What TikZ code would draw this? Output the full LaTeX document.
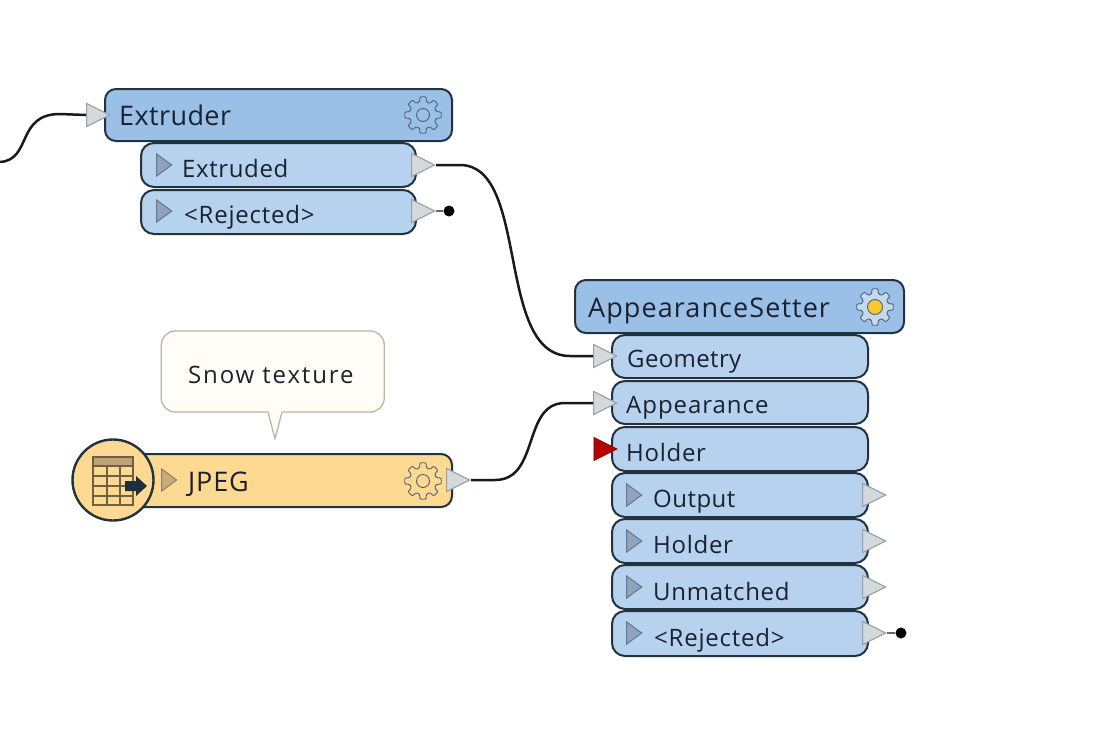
\documentclass[tikz,border=0pt]{standalone}
\usepackage{fontspec}
\setmainfont{Open Sans}
\usetikzlibrary{shapes.geometric,calc}
\definecolor{edgec}{HTML}{22323F}
\definecolor{headc}{HTML}{9BC0E8}
\definecolor{subc}{HTML}{B6D2EF}
\definecolor{gearfill}{HTML}{C4D9EE}
\definecolor{orangec}{HTML}{FED992}
\definecolor{portc}{HTML}{D3DADE}
\definecolor{portedge}{HTML}{9AA0A4}
\definecolor{expc}{HTML}{8FA3BC}
\definecolor{expedge}{HTML}{64788F}
\definecolor{expo}{HTML}{C6AA78}
\definecolor{expoedge}{HTML}{8F7F5F}
\definecolor{notec}{HTML}{FFFDF5}
\definecolor{noteedge}{HTML}{B8B8A8}
\definecolor{gearc}{HTML}{4F6070}
\definecolor{textc}{HTML}{1A2230}
\definecolor{gridc}{HTML}{6F5F45}
\definecolor{gridh}{HTML}{BFA273}
\definecolor{arrowc}{HTML}{1B2F3F}
\definecolor{sunc}{HTML}{F8C830}
\newcommand{\lsp}[1]{\addfontfeature{LetterSpace=#1}}
\tikzset{
  x=1pt,y=-1pt,
  boxbase/.style={draw=edgec,line width=2pt,rounded corners=11pt,inner sep=0pt},
  headbox/.style={boxbase,fill=headc},
  subbox/.style={boxbase,fill=subc,rounded corners=13pt},
  orangebox/.style={boxbase,fill=orangec},
  trianglebase/.style={isosceles triangle,isosceles triangle stretches,shape border rotate=0,inner sep=0pt,anchor=apex},
  port/.style={trianglebase,draw=portedge,line width=1.1pt,fill=portc,minimum width=23pt,minimum height=23pt},
  redport/.style={trianglebase,draw=red!60!black,line width=.8pt,fill=red!70!black,minimum width=23pt,minimum height=23pt},
  expander/.style={trianglebase,draw=expedge,line width=1pt,fill=expc,minimum width=22pt,minimum height=15pt},
  expanderorange/.style={trianglebase,draw=expoedge,line width=1pt,fill=expo,minimum width=22pt,minimum height=15pt},
  headtext/.style={anchor=base west,inner sep=0pt,text=textc,font=\fontsize{27}{30}\selectfont},
  subtext/.style={anchor=base west,inner sep=0pt,text=textc,font=\fontsize{24}{28}\selectfont},
  wire/.style={draw=black!90,line width=2.5pt},
  stub/.style={draw=black!60,line width=1.1pt},
  dotend/.style={circle,fill=black,inner sep=0pt,minimum size=11pt},
  gearline/.style={draw=gearc,line width=.9pt},
}
\newcommand{\mkbox}[6]{\node[#2,minimum width={#5-#3},minimum height={#6-#4}] (#1) at ({(#3+#5)/2},{(#4+#6)/2}) {};}
\newcommand{\mkgear}[4]{%
  \draw[gearline,fill=#2,rounded corners=1pt] ($(#1)+(-15:13.5)$)
    \foreach \a in {0,45,...,315}{ -- ($(#1)+(\a-15:13.5)$) -- ($(#1)+(\a-9:18.5)$) -- ($(#1)+(\a+9:18.5)$) -- ($(#1)+(\a+15:13.5)$)} -- cycle;
  \draw[gearline,fill=#3] (#1) circle (#4);}
\begin{document}
\begin{tikzpicture}
\useasboundingbox (0,0) rectangle (1094,750);
\fill[white] (0,0) rectangle (1094,750);

% Extruder
\mkbox{extruder}{headbox}{105}{89}{452}{141}
\mkbox{extruded}{subbox}{141}{143}{416}{187}
\mkbox{extrej}{subbox}{141}{190}{416}{234}
\node[headtext] (extrudertext) at (119,125) {\lsp{1.5}Extruder};
\node[subtext] (extrudedtext) at (182,177) {\lsp{2.6}Extruded};
\node[subtext] (extrejtext) at (184,223) {\lsp{3.3}<Rejected>};
\mkgear{423,115}{headc}{headc}{6.5}
\node[expander] (extrudedexp) at (173,165) {};
\node[expander] (extrejexp) at (173,211) {};

% AppearanceSetter
\mkbox{setter}{headbox}{575}{280}{904}{333}
\mkbox{geom}{subbox}{612}{335}{868}{378}
\mkbox{appear}{subbox}{612}{381}{868}{424}
\mkbox{holderin}{subbox}{612}{427}{868}{471}
\mkbox{output}{subbox}{612}{473}{868}{517}
\mkbox{holderout}{subbox}{612}{519}{868}{563}
\mkbox{unmatched}{subbox}{612}{565}{868}{609}
\mkbox{setrej}{subbox}{612}{611}{868}{656}
\node[headtext] (settertext) at (588,317) {\lsp{4}AppearanceSetter};
\mkgear{875,307}{gearfill}{sunc}{7.5}
\node[subtext] (geomtext) at (627,367) {\lsp{1.5}Geometry};
\node[subtext] (appeartext) at (626,413) {\lsp{4}Appearance};
\node[subtext] (holderintext) at (626,461) {\lsp{3}Holder};
\node[subtext] (outputtext) at (653,507) {\lsp{2}Output};
\node[subtext] (holderouttext) at (653,553) {\lsp{3}Holder};
\node[subtext] (unmatchedtext) at (653,600) {\lsp{3}Unmatched};
\node[subtext] (setrejtext) at (654,646) {\lsp{3.3}<Rejected>};
\node[expander] (outputexp) at (643,495) {};
\node[expander] (holderexp) at (643,541) {};
\node[expander] (unmatchedexp) at (643,587) {};
\node[expander] (setrejexp) at (643,633) {};

% JPEG
\mkbox{jpeg}{orangebox}{120}{454}{452}{507}
\node[subtext,font=\fontsize{27}{30}\selectfont] (jpegtext) at (188,491) {\lsp{3}JPEG};
\mkgear{423,481}{orangec}{orangec}{6.5}
\node[expanderorange] (jpegexp) at (178,480) {};
\node[circle,draw=edgec,line width=2.4pt,fill=orangec,minimum size=81pt,inner sep=0pt] (reader) at (113,480) {};
\fill[gridh] (93,457) rectangle (133,466);
\draw[gridc,line width=2pt] (93,457) rectangle (133,505);
\draw[gridc,line width=1.7pt] (93,466) -- (133,466) (93,476) -- (133,476) (93,486) -- (133,486) (93,496) -- (133,496)
  (107,466) -- (107,505) (120,466) -- (120,505);
\fill[arrowc] (125,481) -- (136,481) -- (136,476) -- (147,486) -- (136,496) -- (136,491) -- (125,491) -- cycle;

% Callout
\node[draw=noteedge,fill=notec,line width=1.3pt,rounded corners=14pt,minimum width=223pt,minimum height=81pt,inner sep=0pt] (note) at (272.75,371.5) {};
\fill[notec] (268,411) -- (282,411) -- (275,439) -- cycle;
\draw[noteedge,line width=1.3pt,line join=round] (268,412) -- (275,439) -- (282,412);
\node[subtext] (notetext) at (188,383) {\lsp{7.7}Snow texture};

% Ports
\node[port] (extruderin) at (111,115) {};
\node[port] (extrudedout) at (436,165) {};
\node[port] (extrejout) at (436,211) {};
\node[dotend] (extrejdot) at (449,211) {};
\node[port] (jpegout) at (471,480) {};
\node[port] (geomin) at (618,356) {};
\node[port] (appearin) at (618,403) {};
\node[redport] (holderport) at (618,449) {};
\node[port] (outputout) at (887,495) {};
\node[port] (holderoutport) at (887,541) {};
\node[port] (unmatchedout) at (887,587) {};
\node[port] (setrejout) at (887,633) {};
\node[dotend] (setrejdot) at (901,633) {};

% Connectors
\coordinate (offleft) at (0,162);
\draw[wire] (offleft) .. controls (32,160) and (16,114) .. (60,114) -- (extruderin.west);
\draw[wire] (extrudedout.apex) -- (460,165) .. controls (530,165) and (495,356) .. (570,356) -- (geomin.west);
\draw[wire] (jpegout.apex) -- (495,480) .. controls (540,480) and (522,403) .. (565,403) -- (appearin.west);
\draw[stub] (extrejout.apex) -- (extrejdot);
\draw[stub] (setrejout.apex) -- (setrejdot);
\end{tikzpicture}
\end{document}
